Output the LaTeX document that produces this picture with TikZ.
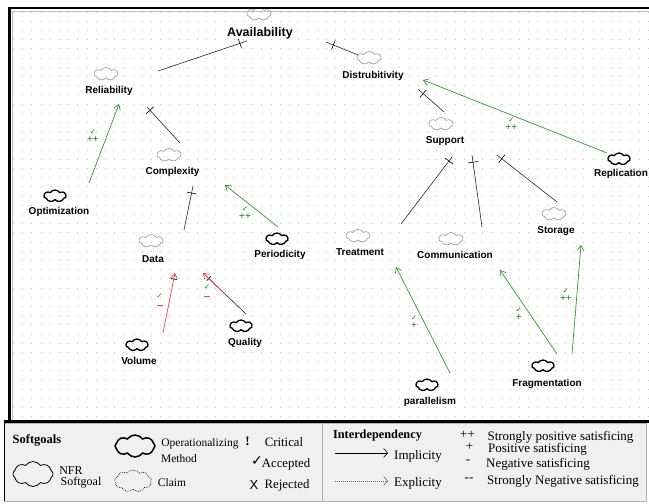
\documentclass[tikz,border=0pt]{standalone}
\usepackage{fontspec}
\setmainfont{Liberation Serif}
\newfontfamily\lsans{Liberation Sans}
\newfontfamily\djv{DejaVu Sans}
\usetikzlibrary{shapes.symbols, arrows.meta}
\definecolor{gline}{RGB}{45,155,45}
\definecolor{glbl}{RGB}{20,130,20}
\definecolor{rline}{RGB}{245,70,70}
\definecolor{legbg}{RGB}{240,240,240}
\definecolor{dotc}{RGB}{200,200,200}
\newcommand{\evlab}[1]{{\djv\bfseries\fontsize{7.5}{7.5}\selectfont ✓}\\#1}
\newcommand{\evlabm}{{\djv\bfseries\fontsize{7.5}{7.5}\selectfont ✓}\\\textcolor{rline}{\rule[1pt]{6pt}{0.9pt}}}
\tikzset{
  lbl/.style={inner sep=0pt, font=\lsans\bfseries\fontsize{10}{12}\selectfont},
  sg/.style={cloud, cloud puffs=7, cloud puff arc=115, cloud ignores aspect, draw=gray!75, line width=0.7pt, minimum width=24pt, minimum height=13pt, inner sep=0pt},
  op/.style={sg, draw=black, line width=1.3pt, minimum width=22pt, minimum height=12pt},
  con/.style={line width=0.6pt, black!85},
  tick/.style={sloped, draw=black, line width=0.6pt, minimum width=0pt, minimum height=10pt, inner sep=0pt, outer sep=0pt},
  garr/.style={gline, line width=0.7pt, -{Straight Barb[length=5pt,width=7pt]}},
  rarr/.style={rline, line width=0.7pt, -{Straight Barb[length=5pt,width=7pt]}},
  ev/.style={inner sep=0pt, align=center, font=\lsans\fontsize{10}{8.5}\selectfont, text=glbl},
  lt/.style={inner sep=0pt, font=\fontsize{12.8}{14}\selectfont},
  lts/.style={inner sep=0pt, font=\fontsize{11.5}{13}\selectfont},
  ltr/.style={inner sep=0pt, font=\fontsize{13}{14}\selectfont},
}
\begin{document}
\begin{tikzpicture}[x=1pt,y=-1pt]
\useasboundingbox (0,0) rectangle (649,504);
\fill[white] (0,0) rectangle (649,504);
% dotted grid
\foreach \r in {0,...,44} {
  \draw[dotc, line width=0.9pt, dash pattern=on 0.9pt off 8.3pt] (13,{12+9.2*\r}) -- (649,{12+9.2*\r});
}
% clouds
\node[sg] (availc) at (259,14) {};
\node[sg] (relc) at (106,74) {};
\node[sg] (distc) at (369,58) {};
\node[sg] (compc) at (169,155) {};
\node[sg] (supc) at (441,124) {};
\node[op] (optc) at (55,196) {};
\node[op] (replc) at (619,159) {};
\node[sg] (datac) at (151,241) {};
\node[op] (peric) at (277,239) {};
\node[sg] (treatc) at (358,236) {};
\node[sg] (commc) at (451,239) {};
\node[sg] (storc) at (554,214) {};
\node[op] (volc) at (137,345) {};
\node[op] (qualc) at (241,326) {};
\node[op] (parc) at (427,385) {};
\node[op] (fragc) at (543,366) {};
% labels
\node[lbl, font=\lsans\bfseries\fontsize{12.5}{14}\selectfont] (avail) at (260,33) {Availability};
\node[lbl] (rel) at (109,90.5) {Reliability};
\node[lbl] (dist) at (373,75.5) {Distrubitivity};
\node[lbl] (comp) at (172.5,172) {Complexity};
\node[lbl] (sup) at (445,141) {Support};
\node[lbl] (opt) at (59,212) {Optimization};
\node[lbl] (repl) at (621,174) {Replication};
\node[lbl] (data) at (153,259) {Data};
\node[lbl] (peri) at (280,255) {Periodicity};
\node[lbl] (treat) at (360,252) {Treatment};
\node[lbl] (comm) at (455,255) {Communication};
\node[lbl] (stor) at (556,231) {Storage};
\node[lbl] (vol) at (139,361) {Volume};
\node[lbl] (qual) at (245,343) {Quality};
\node[lbl] (par) at (430,402) {parallelism};
\node[lbl] (frag) at (547,383.5) {Fragmentation};
% decompositions
\draw[con] ([shift={(49,-19.5)}]rel.center) -- ([shift={(-13,8)}]avail.center) node[tick,pos=0.92]{};
\draw[con] ([shift={(-11,-3)}]distc.center) -- ([shift={(66,9)}]avail.center) node[tick,pos=0.77]{};
\draw[con] ([shift={(11,-12)}]compc.center) -- ([shift={(38,16.5)}]rel.center) node[tick,pos=0.91]{};
\draw[con] ([shift={(33,-11)}]datac.center) -- ([shift={(20.5,14)}]comp.center) node[tick,pos=0.84]{};
\draw[con] ([shift={(3,-12)}]supc.center) -- ([shift={(45,13.5)}]dist.center) node[tick,pos=0.8]{};
\draw[con] ([shift={(43,-12)}]treatc.center) -- ([shift={(7,16)}]sup.center) node[tick,pos=0.94]{};
\draw[con] ([shift={(31,-12)}]commc.center) -- ([shift={(27,14)}]sup.center) node[tick,pos=0.9]{};
\draw[con] ([shift={(3,-12)}]storc.center) -- ([shift={(52,14)}]sup.center) node[tick,pos=0.92]{};
% contributions
\draw[garr] ([shift={(34,-13)}]optc.center) -- ([shift={(10,13.5)}]rel.center) node[ev,pos=0.595,shift={(-14,0)}]{\evlab{++}};
\draw[garr] ([shift={(1,-12)}]peric.center) -- ([shift={(52.5,13)}]comp.center) node[ev,pos=0.64,shift={(1,13)}]{\evlab{++}};
\draw[rarr] ([shift={(26,-12)}]volc.center) -- ([shift={(22,14)}]data.center) node[tick,pos=0.9,minimum height=6pt]{} node[ev,pos=0.55,shift={(-10,0)}]{\evlabm};
\draw[con] ([shift={(5,-12)}]qualc.center) -- ([shift={(50,14)}]data.center) node[tick,pos=0.865,minimum height=6pt]{} node[ev,pos=0.56,shift={(-15,0)}]{\evlabm};
\draw[rarr, shorten <=32pt] ([shift={(5,-12)}]qualc.center) -- ([shift={(50,14)}]data.center);
\draw[garr] ([shift={(-12,-6)}]replc.center) -- ([shift={(50,4.5)}]dist.center) node[ev,pos=0.52,shift={(0,9)}]{\evlab{++}};
\draw[garr] ([shift={(23,-12)}]parc.center) -- ([shift={(36,15)}]treat.center) node[ev,pos=0.48,shift={(-10,0)}]{\evlab{+}};
\draw[garr] ([shift={(14,-12)}]fragc.center) -- ([shift={(45,15)}]comm.center) node[ev,pos=0.476,shift={(-11,0)}]{\evlab{+}};
\draw[garr] ([shift={(29,-12)}]fragc.center) -- ([shift={(25,14)}]stor.center) node[ev,pos=0.54,shift={(-11,0)}]{\evlab{++}};
% frame
\draw[gray!50, line width=0.6pt] (12.5,420) -- (12.5,10.8) -- (649,10.8);
\draw[line width=2.6pt] (9.6,421) -- (9.6,8) -- (649,8);
% legend
\fill[legbg] (4,423) rectangle (646,501);
\draw[gray!60, line width=0.6pt] (4,423) rectangle (646,501);
\draw[gray!60, line width=0.6pt] (322,423) -- (322,501);
\draw[line width=1.4pt] (4.5,421) -- (4.5,501);
\draw[line width=2.6pt] (4,421.5) -- (649,421.5);
\node[lt, font=\bfseries\fontsize{12.5}{14}\selectfont] (lsg) at (37,440) {Softgoals};
\node[cloud, cloud puffs=8, cloud puff arc=110, cloud ignores aspect, draw=black, line width=0.8pt, minimum width=40pt, minimum height=25pt, inner sep=0pt] (lnfrc) at (33,474) {};
\node[lt, font=\fontsize{12}{14}\selectfont] (lnfr) at (71,470.5) {NFR};
\node[lt, font=\fontsize{12}{14}\selectfont] (lnfr2) at (81,483) {Softgoal};
\node[cloud, cloud puffs=8, cloud puff arc=110, cloud ignores aspect, draw=black, line width=1.5pt, minimum width=40pt, minimum height=22pt, inner sep=0pt] (lopc) at (135,446) {};
\node[lts] (lop) at (200,444) {Operationalizing};
\node[lts] (lop2) at (179,459) {Method};
\node[cloud, cloud puffs=9, cloud puff arc=110, cloud ignores aspect, draw=black, line width=0.6pt, dash pattern=on 0.8pt off 1pt, minimum width=37pt, minimum height=22pt, inner sep=0pt] (lclc) at (133,481) {};
\node[lts] (lcl) at (172,483) {Claim};
\node[lt, font=\bfseries\fontsize{13}{14}\selectfont] (lexc) at (247.5,441) {!};
\node[lt] (lcrit) at (284,442) {Critical};
\node[lt, font=\djv\fontsize{14}{15}\selectfont] (lchk) at (257,461) {✓};
\node[lt] (lacc) at (286,464) {Accepted};
\node[lt, font=\lsans\fontsize{13}{14}\selectfont] (lx) at (254,485) {X};
\node[lt] (lrej) at (287,485) {Rejected};
\node[lt, font=\bfseries\fontsize{12.3}{14}\selectfont] (lint) at (377.5,436) {Interdependency};
\coordinate (ia) at (335,453);
\coordinate (ib) at (388,453);
\coordinate (ea) at (335,481);
\coordinate (eb) at (388,481);
\draw[line width=0.6pt, -{Straight Barb[length=4pt,width=9pt]}] (ia) -- (ib);
\draw[line width=0.6pt, gray!80!black, dash pattern=on 1pt off 1pt, -{Straight Barb[length=4pt,width=9pt]}] (ea) -- (eb);
\node[ltr] (limp) at (418,456) {Implicity};
\node[ltr] (lexp) at (418,483) {Explicity};
\node[ltr] (lpp) at (467.5,435) {++};
\node[ltr] (lpps) at (560.5,437) {Strongly positive satisficing};
\node[ltr] (lp) at (469.5,447) {+};
\node[ltr] (lps) at (537.5,449) {Positive satisficing};
\node[ltr] (lm) at (468,462) {-};
\node[ltr] (lms) at (538,464) {Negative satisficing};
\node[ltr] (lmm) at (469,480) {-{}-};
\node[ltr] (lmms) at (563,481) {Strongly Negative satisficing};
\end{tikzpicture}
\end{document}
